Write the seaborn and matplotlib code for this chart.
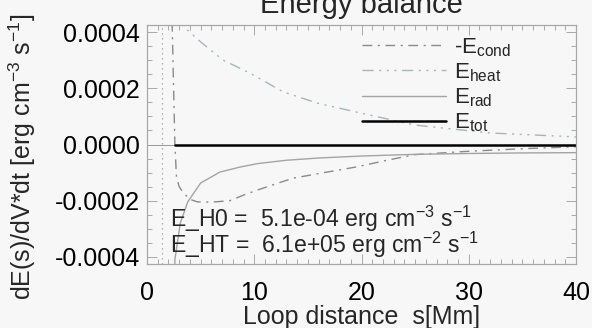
import numpy as np
import pandas as pd
import matplotlib
matplotlib.use("Agg")
import matplotlib.pyplot as plt
from matplotlib.lines import Line2D
from matplotlib.ticker import MultipleLocator, FuncFormatter
import seaborn as sns

# Energy terms along the loop (s in Mm, rates in erg cm^-3 s^-1)
s_cond = [2.25, 2.35, 2.48, 2.6, 2.75, 3.0, 3.4, 4.0, 4.7, 6.0, 7.7, 9.0, 10.3,
          12.0, 13.6, 16.5, 19.5, 22.5, 25.0, 30.0, 35.0, 40.0]
neg_e_cond = [8.0e-4, 4.2e-4, 2.0e-4, 0.0, -1.16e-4, -1.5e-4, -1.72e-4, -1.95e-4,
              -2.04e-4, -2.05e-4, -2.0e-4, -1.8e-4, -1.62e-4, -1.4e-4, -1.2e-4,
              -1.0e-4, -8.0e-5, -5.5e-5, -3.6e-5, -2.4e-5, -1.5e-5, -8.0e-6]

s_heat = [2.6, 3.1, 5.0, 7.1, 9.6, 12.7, 15.9, 19.9, 25.0, 32.0, 40.0]
e_heat = [4.8e-4, 4.3e-4, 3.65e-4, 3.0e-4, 2.54e-4, 1.87e-4, 1.47e-4, 1.12e-4,
          6.9e-5, 4.1e-5, 2.7e-5]

s_rad = [2.45, 2.6, 3.1, 3.8, 5.0, 6.8, 8.7, 10.3, 13.0, 16.0, 20.0, 25.0, 30.0,
         35.0, 40.0]
e_rad = [-7.0e-4, -4.1e-4, -2.8e-4, -2.04e-4, -1.37e-4, -9.8e-5, -8.0e-5, -6.8e-5,
         -5.6e-5, -4.8e-5, -4.1e-5, -3.5e-5, -3.2e-5, -3.0e-5, -2.9e-5]

s_tot = [2.6, 10.0, 20.0, 30.0, 40.0]
e_tot = [0.0, 0.0, 0.0, 0.0, 0.0]

s_base = 1.4            # footpoint marker
E_H0 = 5.1e-4           # erg cm^-3 s^-1
E_HT = 6.1e5            # erg cm^-2 s^-1

x_ticks = [0, 10, 20, 30, 40]
y_ticks = [-0.0004, -0.0002, 0.0, 0.0002, 0.0004]

sns.set_theme(style="ticks")
bg = "#f7f7f7"
plt.rcParams.update({
    "font.family": ["Liberation Sans", "DejaVu Sans"],
    "mathtext.fontset": "custom",
    "mathtext.rm": "Liberation Sans",
    "mathtext.it": "Liberation Sans:italic",
    "mathtext.bf": "Liberation Sans:bold",
    "axes.unicode_minus": False,
    "figure.facecolor": bg,
    "axes.facecolor": bg,
})

fig = plt.figure(figsize=(5.92, 3.28), dpi=100)
ax = fig.add_axes([147 / 592, (328 - 264) / 328, 429 / 592, 239 / 328])

c_cond = "#8a8a8a"
c_heat = "#a6b6b6"
c_rad = "#a4a4a4"
ls_cond = (0, (7, 4, 1.5, 4))
ls_heat = (0, (8, 4, 1.5, 4, 1.5, 4, 1.5, 4))

ax.axhline(0.0, color="#9a9a9a", lw=0.7, zorder=1)
ax.axvline(s_base, color="#9a9a9a", lw=0.9, ls=(0, (1, 3)), zorder=1)

df_cond = pd.DataFrame({"s": s_cond, "v": neg_e_cond})
df_heat = pd.DataFrame({"s": s_heat, "v": e_heat})
df_rad = pd.DataFrame({"s": s_rad, "v": e_rad})
df_tot = pd.DataFrame({"s": s_tot, "v": e_tot})

sns.lineplot(data=df_cond, x="s", y="v", ax=ax, color=c_cond, lw=1.0,
             linestyle=ls_cond, sort=False, estimator=None)
sns.lineplot(data=df_heat, x="s", y="v", ax=ax, color=c_heat, lw=1.0,
             linestyle=ls_heat, sort=False, estimator=None)
sns.lineplot(data=df_rad, x="s", y="v", ax=ax, color=c_rad, lw=1.0,
             sort=False, estimator=None)
sns.lineplot(data=df_tot, x="s", y="v", ax=ax, color="black", lw=1.8,
             sort=False, estimator=None)

ax.set_xlim(0, 40)
ax.set_ylim(-0.000425, 0.000425)
ax.set_xticks(x_ticks)
ax.set_yticks(y_ticks)
ax.xaxis.set_minor_locator(MultipleLocator(1))
ax.yaxis.set_minor_locator(MultipleLocator(0.00005))
ax.yaxis.set_major_formatter(FuncFormatter(lambda v, p: "%.4f" % v))
ax.xaxis.set_major_formatter(FuncFormatter(lambda v, p: "%d" % v))

spine_c = "#a8a8a8"
for sp in ax.spines.values():
    sp.set_visible(True)
    sp.set_color(spine_c)
    sp.set_linewidth(0.9)
ax.tick_params(which="both", direction="in", top=True, right=True,
               color=spine_c, width=0.7, labelsize=18, labelcolor="black")
ax.tick_params(which="major", length=7)
ax.tick_params(which="minor", length=3.5)
ax.tick_params(axis="x", which="major", pad=12)
ax.tick_params(axis="y", which="major", pad=5)

ax.set_xlabel("Loop distance  s[Mm]", fontsize=18)
ax.xaxis.set_label_coords(0.5, -0.172)
ax.set_ylabel(r"dE(s)/dV*dt [erg cm$^{-3}$ s$^{-1}$]", fontsize=18)
ax.yaxis.set_label_coords(-0.255, 0.45)

fig.text(0.61, 1 - 13 / 328, "Energy balance", fontsize=21,
         ha="center", va="baseline")

ax.text(2.15, -0.000293, "E_H0 =  %.1e erg cm$^{-3}$ s$^{-1}$" % E_H0,
        fontsize=16.6, va="baseline")
ax.text(2.15, -0.000385, "E_HT =  %.1e erg cm$^{-2}$ s$^{-1}$" % E_HT,
        fontsize=16.6, va="baseline")

handles = [
    Line2D([], [], color=c_cond, lw=1.0, ls=ls_cond),
    Line2D([], [], color=c_heat, lw=1.0, ls=ls_heat),
    Line2D([], [], color=c_rad, lw=1.0),
    Line2D([], [], color="black", lw=1.8),
]
labels = [r"-E$_{\rm cond}$", r"E$_{\rm heat}$", r"E$_{\rm rad}$", r"E$_{\rm tot}$"]
ax.legend(handles, labels, loc="upper left", bbox_to_anchor=(362 / 592, 1 - 36 / 328),
          bbox_transform=fig.transFigure, frameon=False, fontsize=16,
          handlelength=3.8, handletextpad=0.35, labelspacing=0.12,
          borderpad=0.0, borderaxespad=0.0)

fig.savefig("out.png", dpi=100, facecolor=bg)
